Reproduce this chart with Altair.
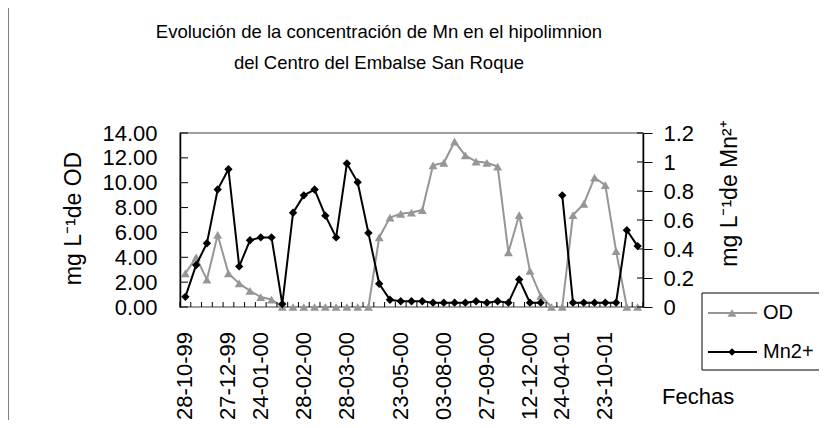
import altair as alt
import pandas as pd

# ---------------- data ----------------
date_labels = ["28-10-99", "27-12-99", "24-01-00", "28-02-00", "28-03-00", "23-05-00",
               "03-08-00", "27-09-00", "12-12-00", "24-04-01", "23-10-01"]
label_idx = [0, 4, 7, 11, 15, 20, 24, 28, 32, 35, 39]

od = [2.7, 4.0, 2.2, 5.8, 2.7, 1.9, 1.3, 0.8, 0.6,
      0, 0, 0, 0, 0, 0, 0, 0, 0,
      5.6, 7.2, 7.5, 7.6, 7.8, 11.4, 11.6, 13.3, 12.2, 11.7, 11.6, 11.3,
      4.4, 7.4, 2.9, 0.9, 0, 0, 7.4, 8.3, 10.4, 9.8, 4.5, 0, 0]

mn = [0.07, 0.29, 0.44, 0.81, 0.95, 0.28, 0.46, 0.48, 0.48, 0.02,
      0.65, 0.77, 0.81, 0.63, 0.48, 0.99, 0.86, 0.51, 0.16, 0.05,
      0.04, 0.04, 0.04, 0.03, 0.03, 0.03, 0.03, 0.04, 0.03, 0.04,
      0.03, 0.19, 0.03, 0.03, None, 0.77, 0.03, 0.03, 0.03, 0.03,
      0.03, 0.53, 0.42]

od_ticks = [0, 2, 4, 6, 8, 10, 12, 14]
mn_ticks = [0, 0.2, 0.4, 0.6, 0.8, 1.0, 1.2]

title_lines = ["Evolución de la concentración de Mn en el hipolimnion",
               "del Centro del Embalse San Roque"]

n = len(od)
W, H = 463, 174
GRAY = "#969696"
FONT = "Liberation Sans"

df = pd.DataFrame({"i": list(range(n)), "od": od})
s = 0
rows = []
for k, v in enumerate(mn):
    if v is None:
        s += 1
        continue
    rows.append({"i": k, "mn": v, "seg": s})
df_mn = pd.DataFrame(rows)
df_xt = pd.DataFrame({"t": [k - 0.5 for k in range(n + 1)]})
df_odt = pd.DataFrame({"v": od_ticks})
df_mnt = pd.DataFrame({"v": mn_ticks})
df_lab = pd.DataFrame({"i": label_idx, "lab": date_labels})
one = alt.Data(values=[{"a": 1}])

sc_x = alt.Scale(domain=[-0.5, n - 0.5], nice=False, zero=False)
sc_od = alt.Scale(domain=[0, 14], nice=False)
sc_mn = alt.Scale(domain=[0, 1.2], nice=False)

x_axis = alt.Axis(values=[k - 0.5 for k in range(n + 1)], labels=False,
                  tickSize=8, title=None)

left_axis = alt.Axis(values=od_ticks, format=".2f", ticks=False, labelPadding=23,
                     title="mg L\u207b\u00b9de OD", titleAngle=270, titleX=-107, titleY=85,
                     titleAlign="center", titleBaseline="middle", orient="left")
right_axis = alt.Axis(values=mn_ticks, format="~g", tickSize=9, labelPadding=11,
                      title="mg L\u207b\u00b9de Mn\u00b2\u207a", titleAngle=270, titleX=86,
                      titleY=60, titleAlign="center", titleBaseline="middle",
                      orient="right")

X = alt.X("i:Q", scale=sc_x, axis=x_axis)
Xn = alt.X("i:Q", scale=sc_x, axis=None)

od_line = alt.Chart(df).mark_line(color=GRAY, strokeWidth=2).encode(
    x=X, y=alt.Y("od:Q", scale=sc_od, axis=left_axis))
od_pts = alt.Chart(df).mark_point(shape="triangle-up", filled=True, size=80,
                                  color=GRAY, opacity=1).encode(
    x=Xn, y=alt.Y("od:Q", scale=sc_od, axis=None))
mn_line = alt.Chart(df_mn).mark_line(color="black", strokeWidth=2).encode(
    x=Xn, y=alt.Y("mn:Q", scale=sc_mn, axis=right_axis), detail="seg:N")
mn_pts = alt.Chart(df_mn).mark_point(shape="diamond", filled=True, size=70,
                                     color="black", opacity=1).encode(
    x=Xn, y=alt.Y("mn:Q", scale=sc_mn, axis=None))

# x tick labels (rotated dates)
x_labels = alt.Chart(df_lab).mark_text(angle=270, align="right", baseline="middle",
                                       font=FONT, fontSize=22, color="black").encode(
    x=Xn, y=alt.value(H + 25), text="lab:N")

# inside tick marks (Excel style crossing ticks)
xt_in = alt.Chart(df_xt).mark_rule(color="black", strokeWidth=1).encode(
    x=alt.X("t:Q", scale=sc_x, axis=None), y=alt.value(H), y2=alt.value(H - 5))
odt_in = alt.Chart(df_odt).mark_rule(color="black", strokeWidth=1).encode(
    y=alt.Y("v:Q", scale=sc_od, axis=None), x=alt.value(0), x2=alt.value(8))
mnt_in = alt.Chart(df_mnt).mark_rule(color="black", strokeWidth=1).encode(
    y=alt.Y("v:Q", scale=sc_mn, axis=None), x=alt.value(W - 6), x2=alt.value(W))

# legend (manual)
LX0, LY0, LX1, LY1 = 522, 160, 641, 237
leg_box = alt.Chart(one).mark_rect(fill="white", stroke="black", strokeWidth=1).encode(
    x=alt.value(LX0), x2=alt.value(LX1), y=alt.value(LY0), y2=alt.value(LY1))
leg_l1 = alt.Chart(one).mark_rule(color=GRAY, strokeWidth=2).encode(
    x=alt.value(528), x2=alt.value(577), y=alt.value(180))
leg_p1 = alt.Chart(one).mark_point(shape="triangle-up", filled=True, size=80,
                                   color=GRAY, opacity=1).encode(
    x=alt.value(552), y=alt.value(180))
leg_t1 = alt.Chart(one).mark_text(text="OD", align="left", baseline="middle",
                                  font=FONT, fontSize=20, color="black").encode(
    x=alt.value(583), y=alt.value(180))
leg_l2 = alt.Chart(one).mark_rule(color="black", strokeWidth=2).encode(
    x=alt.value(528), x2=alt.value(577), y=alt.value(219))
leg_p2 = alt.Chart(one).mark_point(shape="diamond", filled=True, size=60,
                                   color="black", opacity=1).encode(
    x=alt.value(552), y=alt.value(219))
leg_t2 = alt.Chart(one).mark_text(text="Mn2+", align="left", baseline="middle",
                                  font=FONT, fontSize=20, color="black").encode(
    x=alt.value(583), y=alt.value(219))

fechas = alt.Chart(one).mark_text(text="Fechas", align="left", baseline="middle",
                                  font=FONT, fontSize=22, color="black").encode(
    x=alt.value(482), y=alt.value(264))

title1 = alt.Chart(one).mark_text(text=title_lines[0], align="center", baseline="middle",
                                  font=FONT, fontSize=18.5, color="black").encode(
    x=alt.value(199), y=alt.value(-101))
title2 = alt.Chart(one).mark_text(text=title_lines[1], align="center", baseline="middle",
                                  font=FONT, fontSize=18.5, color="black").encode(
    x=alt.value(199), y=alt.value(-70))

border = alt.Chart(one).mark_rule(color="#808080", strokeWidth=1).encode(
    x=alt.value(-171.5), y=alt.value(-125), y2=alt.value(H + 113))

chart = alt.layer(
    od_line, od_pts, mn_line, mn_pts, x_labels, xt_in, odt_in, mnt_in,
    leg_box, leg_l1, leg_p1, leg_t1, leg_l2, leg_p2, leg_t2, fechas,
    title1, title2, border
).resolve_scale(y="independent").properties(
    width=W, height=H,
    autosize=alt.AutoSizeParams(type="none"),
    padding={"left": 172, "top": 125, "right": 176, "bottom": 113},
    background="white",
).configure_view(stroke="#808080", strokeWidth=1.5).configure_axis(
    labelFont=FONT, labelFontSize=22, labelColor="black",
    titleFont=FONT, titleFontSize=23, titleFontWeight="normal", titleColor="black",
    domainColor="black", tickColor="black", grid=False, domainWidth=1.5
)

chart.save("out.html", embed_options={"renderer": "svg", "actions": False})
